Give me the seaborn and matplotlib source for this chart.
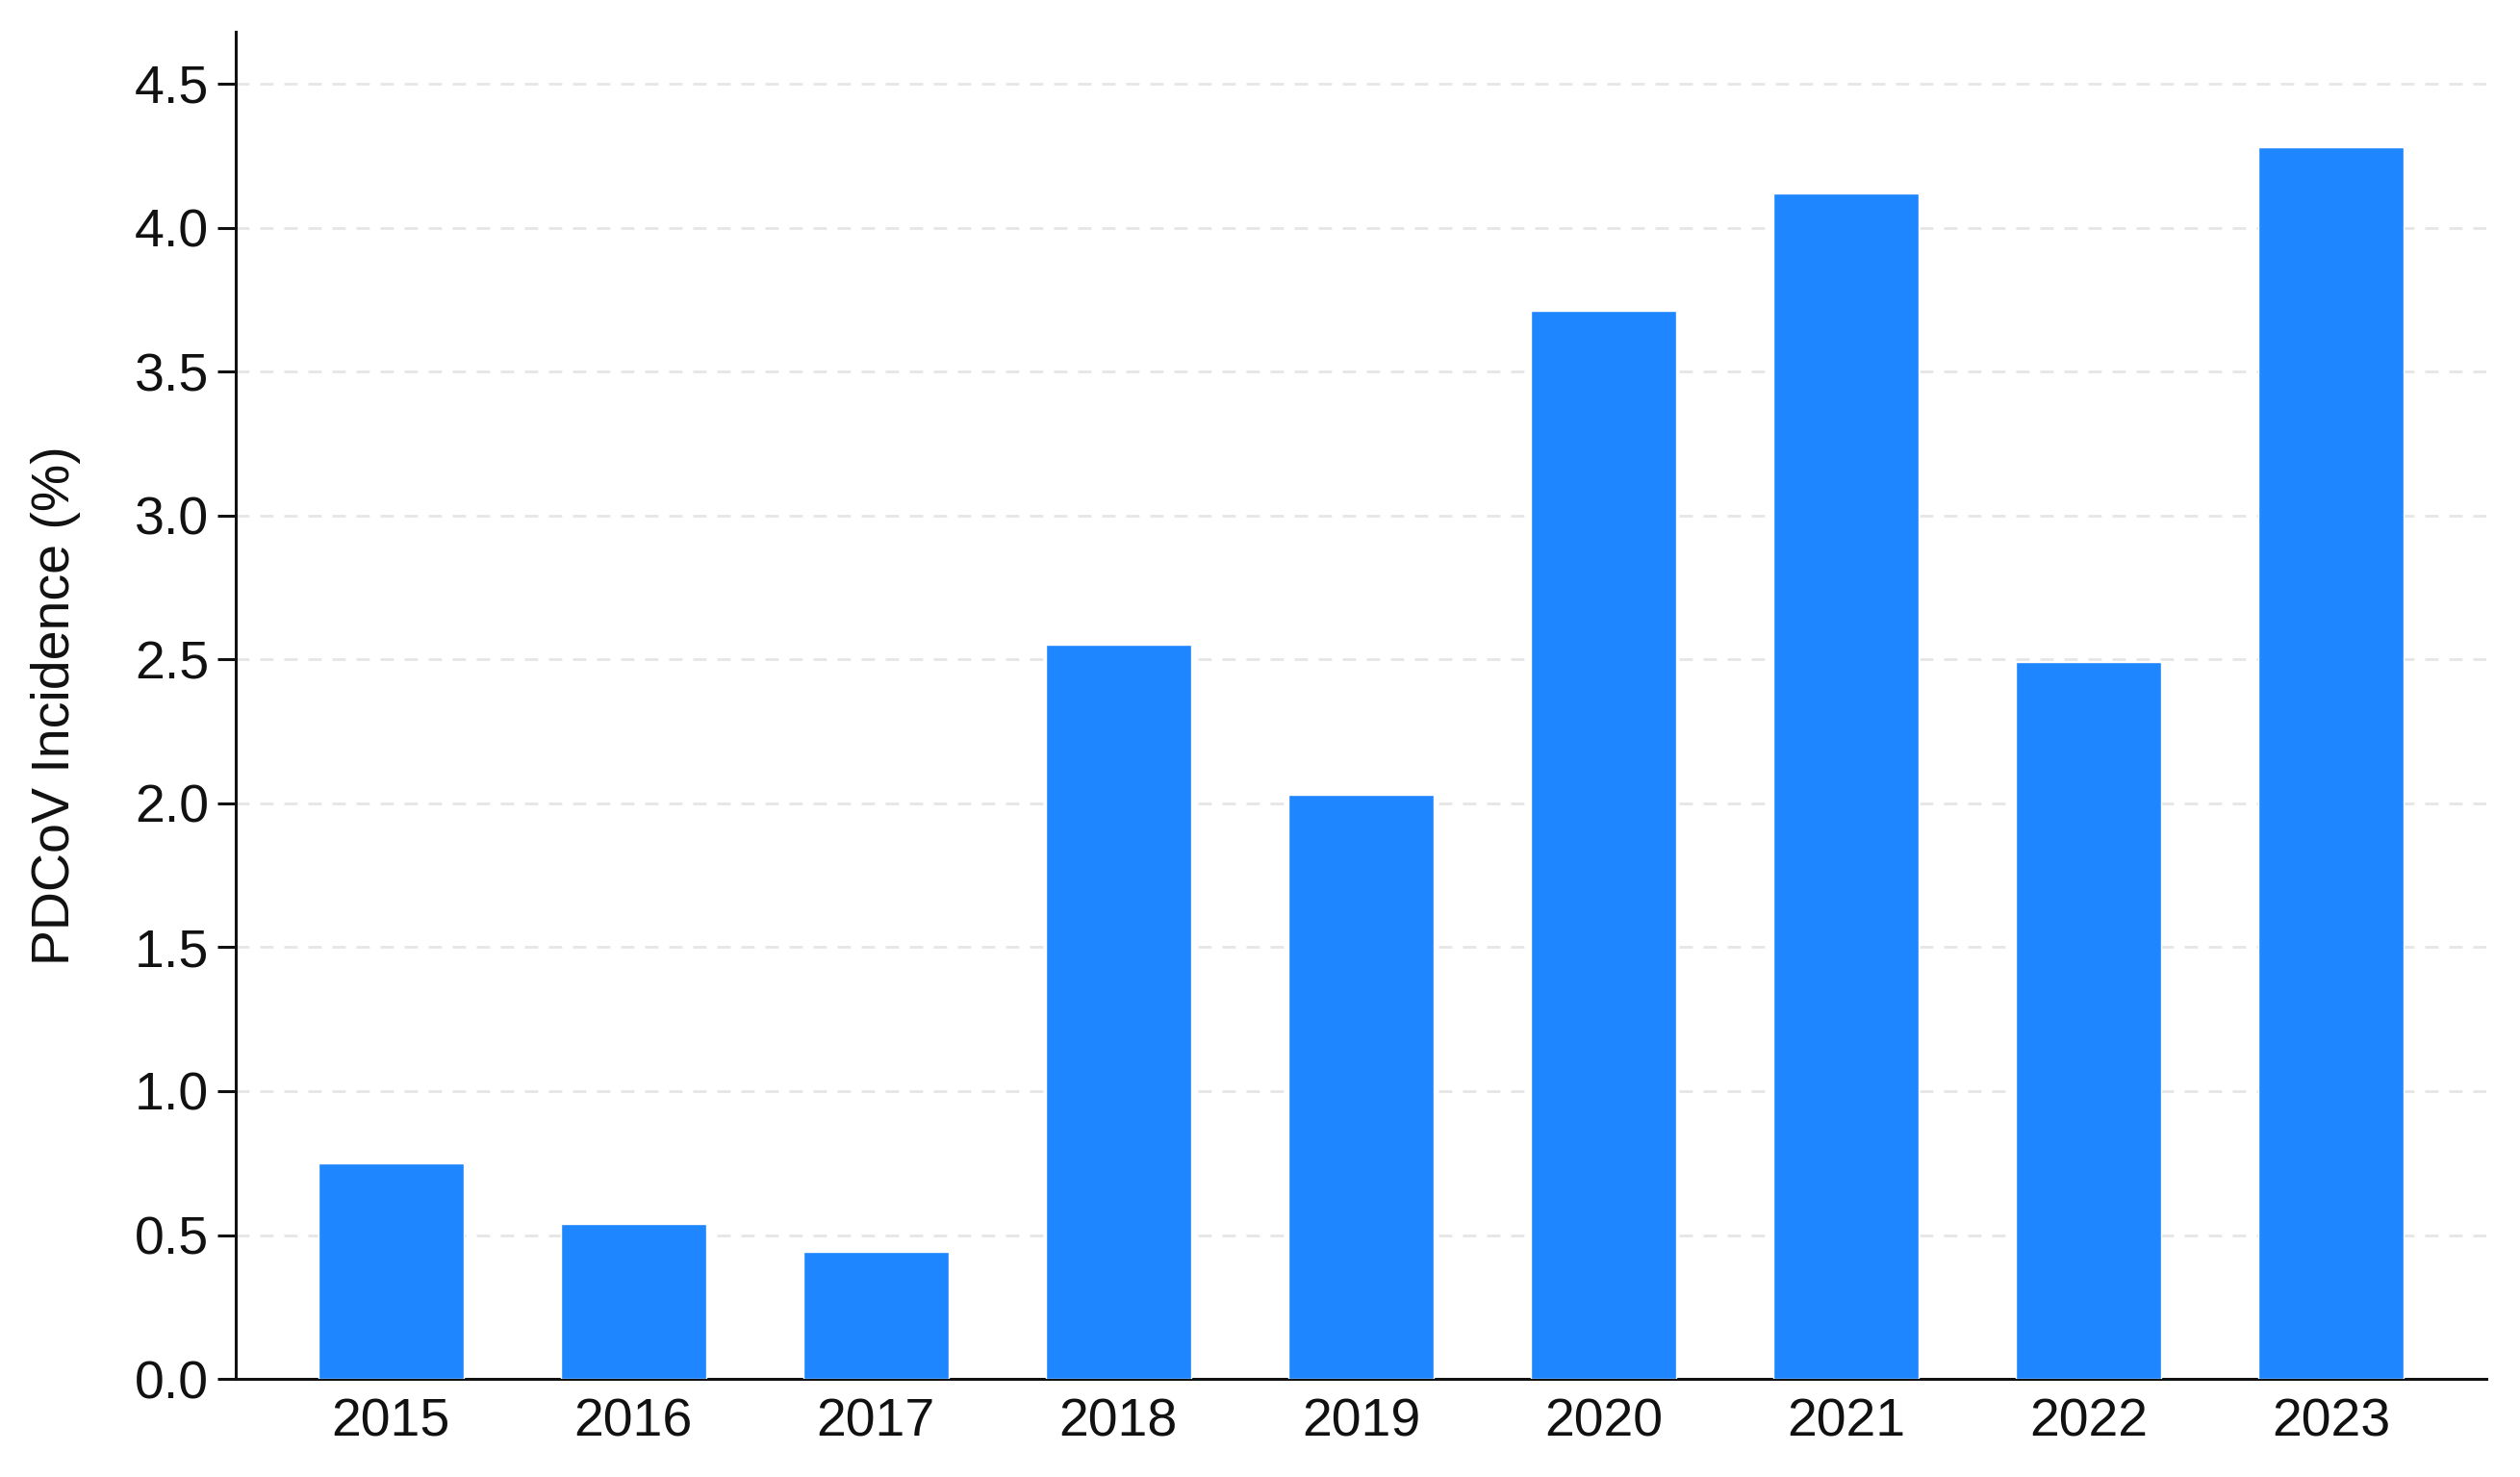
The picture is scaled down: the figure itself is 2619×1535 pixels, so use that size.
import matplotlib
matplotlib.use('Agg')
import matplotlib.pyplot as plt
import seaborn as sns
import pandas as pd

# data
years = ['2015', '2016', '2017', '2018', '2019', '2020', '2021', '2022', '2023']
incidence = [0.75, 0.54, 0.44, 2.55, 2.03, 3.71, 4.12, 2.49, 4.28]
y_ticks = [0.0, 0.5, 1.0, 1.5, 2.0, 2.5, 3.0, 3.5, 4.0, 4.5]

df = pd.DataFrame({'Year': years, 'Incidence': incidence})

sns.set_style('ticks')
plt.rcParams['font.family'] = ['Liberation Sans', 'DejaVu Sans']

fig = plt.figure(figsize=(26.19, 15.35), dpi=100)
ax = fig.add_axes([0.0935, 0.0664, 0.8931, 0.912])

sns.barplot(data=df, x='Year', y='Incidence', color='#1E86FF', saturation=1,
            width=0.6, ax=ax, zorder=3)

ax.set_xlim(-0.64, 8.64)
ax.set_ylim(0, 4.68)
ax.set_yticks(y_ticks)
ax.set_yticklabels(['{:.1f}'.format(t) for t in y_ticks])

# dashed light grid
ax.yaxis.grid(True, linestyle=(0, (5, 4)), color='#e6e6e6', linewidth=2, zorder=0)
ax.set_axisbelow(True)

sns.despine(ax=ax)
for s in ['left', 'bottom']:
    ax.spines[s].set_linewidth(2.2)
    ax.spines[s].set_color('#111111')

ax.tick_params(axis='y', length=14, width=2.2, labelsize=40, pad=6, colors='#111111')
ax.tick_params(axis='x', length=0, labelsize=40, pad=14, colors='#111111')

ax.set_xlabel('')
ax.set_ylabel('PDCoV Incidence (%)', fontsize=40, labelpad=40, color='#111111')

fig.savefig('out.png', dpi=100, facecolor='white')
